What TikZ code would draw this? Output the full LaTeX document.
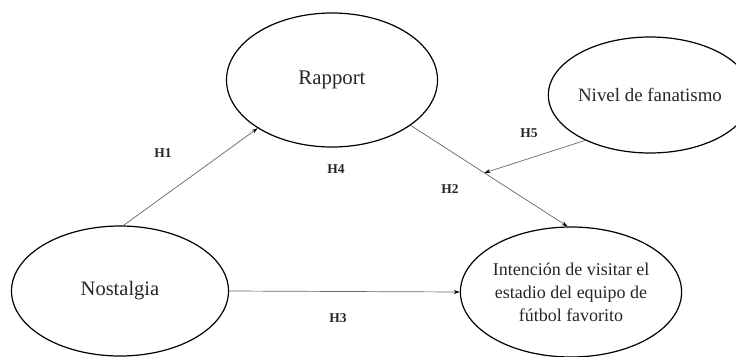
\documentclass[tikz,border=0pt]{standalone}
\usepackage{fontspec}
\setmainfont{Liberation Serif}
\usetikzlibrary{shapes.geometric,arrows.meta,calc}
\begin{document}
\begin{tikzpicture}[x=1pt,y=-1pt,
  var/.style={draw=black,line width=1.2pt,ellipse,inner sep=0pt,align=center,text=black!85},
  hyp/.style={font=\bfseries\fontsize{13.5}{15}\selectfont,text=black!85},
  conn/.style={draw=black!60,line width=0.7pt,-{Stealth[length=6pt,width=4pt,black]}}]
\useasboundingbox (0,0) rectangle (736,356);
\node[var,font=\fontsize{20.8}{24}\selectfont,minimum width=211pt,minimum height=134pt] (rap) at (332,80) {Rapport};
\node[var,font=\fontsize{18.9}{23}\selectfont,minimum width=166pt,minimum height=116pt] (niv) at (650,95) {Nivel de fanatismo};
\node[var,font=\fontsize{20.5}{24}\selectfont,minimum width=217pt,minimum height=130pt] (nos) at (120,291) {Nostalgia};
\node[var,font=\fontsize{18}{23}\selectfont,minimum width=217pt,minimum height=130pt] (int) at (571,292) {Intención de visitar el\\estadio del equipo de\\fútbol favorito};
\draw[conn] (nos.87) -- (rap.-147);
\draw[conn] (rap.-30) -- (int.93);
\coordinate (mod) at ($(rap.-30)!0.47!(int.93)$);
\draw[conn] (niv.215) -- (mod);
\draw[conn] (nos.east) -- (int.west);
\node[hyp] (h1) at (163,153) {H1};
\node[hyp] (h4) at (336,169) {H4};
\node[hyp] (h2) at (450,189) {H2};
\node[hyp] (h5) at (529,133) {H5};
\node[hyp] (h3) at (338,318) {H3};
\end{tikzpicture}
\end{document}
